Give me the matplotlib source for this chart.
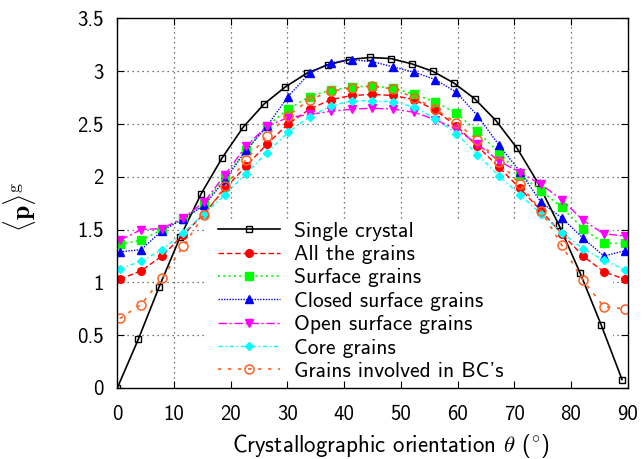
import numpy as np
import matplotlib
matplotlib.use("Agg")
import matplotlib.pyplot as plt
from matplotlib.patches import Rectangle
from matplotlib.ticker import FuncFormatter

plt.rcParams['font.family'] = ['cmss10', 'DejaVu Sans']
plt.rcParams['mathtext.fontset'] = 'cm'
plt.rcParams['axes.unicode_minus'] = False

# orientation angles (deg)
theta_sc = [0, 3.7, 7.4, 11.1, 14.8, 18.5, 22.2, 25.9, 29.6, 33.4, 37.1, 40.8, 44.5,
            48.2, 51.9, 55.6, 59.3, 63.0, 66.8, 70.5, 74.2, 77.9, 81.6, 85.3, 89.0]
theta_gr = [0.5, 4.2, 7.9, 11.6, 15.3, 19.0, 22.7, 26.4, 30.1, 33.9, 37.6, 41.3, 45.0,
            48.7, 52.4, 56.1, 59.8, 63.5, 67.3, 71.0, 74.7, 78.4, 82.1, 85.8, 89.5]

single = [0.0, 0.46, 0.96, 1.43, 1.84, 2.18, 2.47, 2.69, 2.85, 2.98, 3.06, 3.11, 3.13,
          3.12, 3.07, 3.00, 2.89, 2.74, 2.53, 2.27, 1.94, 1.54, 1.09, 0.60, 0.08]
all_grains = [1.03, 1.11, 1.25, 1.45, 1.65, 1.89, 2.10, 2.31, 2.50, 2.64, 2.73, 2.77, 2.78,
              2.77, 2.73, 2.63, 2.48, 2.29, 2.09, 1.89, 1.68, 1.46, 1.25, 1.10, 1.03]
surface = [1.36, 1.40, 1.50, 1.60, 1.74, 2.00, 2.25, 2.48, 2.64, 2.76, 2.82, 2.85, 2.86,
           2.84, 2.78, 2.71, 2.60, 2.43, 2.23, 2.02, 1.87, 1.71, 1.51, 1.37, 1.37]
closed = [1.29, 1.31, 1.49, 1.60, 1.73, 1.97, 2.25, 2.48, 2.76, 2.98, 3.08, 3.11, 3.09,
          3.04, 2.99, 2.92, 2.80, 2.58, 2.30, 2.05, 1.76, 1.61, 1.42, 1.25, 1.30]
open_s = [1.40, 1.50, 1.51, 1.61, 1.76, 2.02, 2.29, 2.48, 2.56, 2.59, 2.62, 2.64, 2.65,
          2.64, 2.61, 2.54, 2.45, 2.31, 2.15, 2.04, 1.93, 1.78, 1.59, 1.46, 1.44]
core = [1.13, 1.20, 1.31, 1.47, 1.65, 1.83, 2.03, 2.23, 2.42, 2.57, 2.67, 2.72, 2.72,
        2.71, 2.66, 2.55, 2.41, 2.21, 2.01, 1.83, 1.65, 1.47, 1.32, 1.21, 1.12]
bc = [0.66, 0.79, 1.04, 1.34, 1.64, 1.91, 2.16, 2.39, 2.58, 2.73, 2.81, 2.84, 2.86,
      2.83, 2.75, 2.64, 2.51, 2.35, 2.14, 1.93, 1.68, 1.35, 1.02, 0.77, 0.75]

fig = plt.figure(figsize=(6.44, 4.59), dpi=100)
ax = fig.add_axes([0.1821, 0.1547, 0.7926, 0.8052])

ax.plot(theta_sc, single, color='k', ls='-', lw=1.2, marker='s', ms=5,
        mfc='none', mec='k', mew=1.0, label='Single crystal')
ax.plot(theta_gr, all_grains, color='#ff0000', ls=(0, (4, 2)), lw=1.0, marker='o', ms=5.5,
        mec='#ff0000', label='All the grains')
ax.plot(theta_gr, surface, color='#00ff00', ls=(0, (1.2, 2)), lw=1.2, marker='s', ms=5.5,
        mec='#00ff00', label='Surface grains')
ax.plot(theta_gr, closed, color='#0000ff', ls=(0, (1, 1)), lw=1.0, marker='^', ms=5.5,
        mec='#0000ff', label='Closed surface grains')
ax.plot(theta_gr, open_s, color='#ff00ff', ls=(0, (6, 2, 1.5, 2)), lw=1.0, marker='v', ms=5.5,
        mec='#ff00ff', label='Open surface grains')
ax.plot(theta_gr, core, color='#00ffff', ls=(0, (3, 2, 1, 2)), lw=1.0, marker='D', ms=4.2,
        mec='#00ffff', label='Core grains')
ax.plot(theta_gr, bc, color='#ff6020', ls=(0, (2, 4)), lw=1.2, marker='o', ms=6.5,
        mfc='none', mec='#ff6020', mew=1.1, label="Grains involved in BC's")

ax.set_xlim(0, 90)
ax.set_ylim(0, 3.5)
ax.set_xticks(np.arange(0, 91, 10))
ax.set_yticks(np.arange(0, 3.51, 0.5))
ax.yaxis.set_major_formatter(FuncFormatter(lambda v, p: '%g' % v))

# dotted grid, masked by the key box (curves stay on top)
for xv in ax.get_xticks()[1:-1]:
    ax.axvline(xv, color='0.3', ls=(0, (1, 3)), lw=0.9, zorder=0.1)
for yv in ax.get_yticks()[1:-1]:
    ax.axhline(yv, color='0.3', ls=(0, (1, 3)), lw=0.9, zorder=0.1)
ax.add_patch(Rectangle((0.172, 0.0), 0.799, 0.455, transform=ax.transAxes,
                       facecolor='white', edgecolor='none', zorder=0.2))

ax.tick_params(direction='in', top=True, right=True, length=5, width=0.8,
               labelsize=15, pad=10)
ax.tick_params(axis='x', pad=12)
for sp in ax.spines.values():
    sp.set_linewidth(1.0)

ax.set_xlabel(r'Crystallographic orientation $\theta$ ($^{\circ}$)', fontsize=16.5, va='center')
ax.xaxis.set_label_coords(0.536, -0.158)
ax.set_ylabel(r'$\langle \mathbf{p} \rangle^{\mathrm{g}}$', fontsize=18.5, va='center')
ax.yaxis.set_label_coords(-0.192, 0.49)

ax.legend(loc='upper left', bbox_to_anchor=(0.197, 0.450), frameon=False, fontsize=15.5,
          handlelength=2.9, handletextpad=0.62, labelspacing=0.2, borderpad=0,
          borderaxespad=0)

fig.savefig('out.png', dpi=100)
